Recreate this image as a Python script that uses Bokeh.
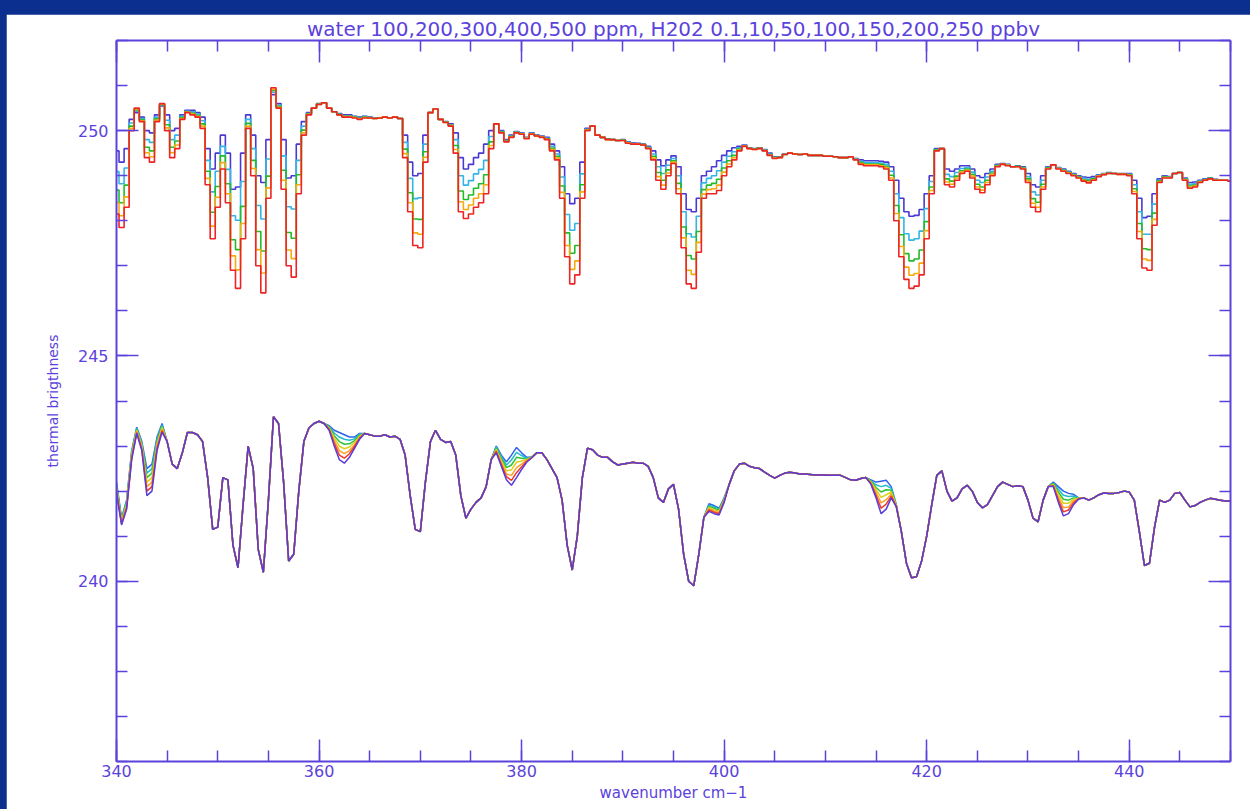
from bokeh.plotting import figure
from bokeh.models import LinearAxis, SingleIntervalTicker
from bokeh.layouts import column
from bokeh.embed import file_html
from bokeh.resources import INLINE

# wavenumber grid (cm-1), 0.5 cm-1 spacing
wavenumber = [round(340.0 + 0.5 * i, 1) for i in range(221)]

# ---------------- water spectra (ppm) ----------------
water_labels = ["100", "200", "300", "400", "500"]
water_100 = [
    249.55, 249.30, 249.60, 250.25, 250.40, 250.30, 250.00, 249.95, 250.35, 250.55,
    250.35, 250.00, 250.05, 250.35, 250.45, 250.45, 250.40, 250.30, 249.60, 249.15,
    249.50, 249.90, 249.50, 248.70, 248.75, 249.50, 250.35, 249.90, 249.00, 248.85,
    249.80, 250.80, 250.60, 249.80, 248.95, 249.00, 249.70, 250.20, 250.40, 250.50,
    250.60, 250.62, 250.50, 250.42, 250.38, 250.35, 250.35, 250.32, 250.30, 250.32,
    250.30, 250.28, 250.28, 250.30, 250.28, 250.30, 250.27, 249.90, 249.30, 249.00,
    249.05, 249.90, 250.40, 250.48, 250.25, 250.20, 250.15, 249.95, 249.40, 249.15,
    249.25, 249.40, 249.50, 249.70, 250.00, 250.15, 250.00, 249.80, 249.90, 249.98,
    249.95, 249.85, 249.95, 249.90, 249.88, 249.85, 249.70, 249.55, 249.20, 248.60,
    248.38, 248.50, 249.30, 250.05, 250.10, 249.90, 249.85, 249.82, 249.80, 249.78,
    249.80, 249.75, 249.73, 249.72, 249.70, 249.65, 249.55, 249.35, 249.22, 249.35,
    249.44, 249.20, 248.60, 248.25, 248.20, 248.50, 249.00, 249.10, 249.20, 249.33,
    249.45, 249.55, 249.62, 249.65, 249.68, 249.62, 249.60, 249.62, 249.58, 249.50,
    249.42, 249.42, 249.48, 249.50, 249.48, 249.47, 249.48, 249.45, 249.45, 249.45,
    249.43, 249.43, 249.42, 249.40, 249.40, 249.42, 249.38, 249.35, 249.33, 249.33,
    249.33, 249.32, 249.30, 249.20, 248.90, 248.50, 248.20, 248.10, 248.12, 248.25,
    248.60, 249.00, 249.60, 249.60, 249.15, 249.10, 249.15, 249.22, 249.22, 249.15,
    249.00, 248.96, 249.05, 249.15, 249.25, 249.27, 249.25, 249.20, 249.22, 249.20,
    249.05, 248.80, 248.75, 249.00, 249.20, 249.24, 249.18, 249.15, 249.10, 249.05,
    249.00, 248.97, 248.96, 248.98, 249.02, 249.05, 249.07, 249.05, 249.05, 249.05,
    249.05, 248.90, 248.50, 248.07, 248.10, 248.60, 248.93, 249.00, 248.98, 249.05,
    249.07, 248.95, 248.85, 248.86, 248.90, 248.93, 248.95, 248.92, 248.90, 248.90,
    248.88,
]
water_200 = [
    249.09, 248.82, 249.17, 250.17, 250.43, 250.27, 249.80, 249.74, 250.30, 250.57,
    250.23, 249.80, 249.90, 250.32, 250.43, 250.42, 250.37, 250.22, 249.34, 248.64,
    249.10, 249.65, 249.14, 248.11, 248.01, 248.87, 250.25, 249.60, 248.34, 248.04,
    249.37, 250.85, 250.57, 249.44, 248.31, 248.26, 249.34, 250.10, 250.38, 250.50,
    250.59, 250.62, 250.50, 250.42, 250.37, 250.33, 250.33, 250.31, 250.28, 250.31,
    250.29, 250.28, 250.28, 250.30, 250.28, 250.30, 250.27, 249.74, 248.94, 248.49,
    248.51, 249.70, 250.40, 250.48, 250.25, 250.19, 250.13, 249.80, 249.00, 248.79,
    248.89, 249.04, 249.14, 249.34, 249.87, 250.15, 249.98, 249.78, 249.88, 249.97,
    249.94, 249.84, 249.94, 249.89, 249.87, 249.83, 249.65, 249.48, 248.97, 248.14,
    247.79, 247.94, 249.04, 250.03, 250.10, 249.90, 249.85, 249.81, 249.80, 249.78,
    249.79, 249.74, 249.72, 249.71, 249.69, 249.63, 249.48, 249.20, 249.05, 249.23,
    249.38, 249.00, 248.20, 247.71, 247.64, 248.10, 248.84, 248.94, 249.00, 249.11,
    249.30, 249.43, 249.53, 249.62, 249.67, 249.61, 249.59, 249.61, 249.57, 249.48,
    249.41, 249.41, 249.48, 249.50, 249.48, 249.47, 249.48, 249.45, 249.45, 249.45,
    249.43, 249.43, 249.42, 249.40, 249.40, 249.42, 249.37, 249.32, 249.29, 249.29,
    249.29, 249.28, 249.25, 249.10, 248.60, 248.07, 247.71, 247.57, 247.60, 247.77,
    248.27, 248.87, 249.58, 249.60, 249.03, 248.98, 249.07, 249.16, 249.18, 249.08,
    248.90, 248.85, 248.97, 249.10, 249.23, 249.26, 249.24, 249.20, 249.21, 249.18,
    248.98, 248.64, 248.57, 248.90, 249.18, 249.24, 249.17, 249.13, 249.08, 249.03,
    248.98, 248.94, 248.92, 248.95, 249.01, 249.04, 249.06, 249.05, 249.04, 249.04,
    249.03, 248.80, 248.20, 247.70, 247.70, 248.37, 248.90, 248.98, 248.97, 249.05,
    249.07, 248.93, 248.81, 248.82, 248.88, 248.92, 248.94, 248.91, 248.90, 248.90,
    248.88,
]
water_300 = [
    248.68, 248.40, 248.79, 250.10, 250.46, 250.24, 249.63, 249.55, 250.26, 250.58,
    250.13, 249.63, 249.77, 250.29, 250.42, 250.39, 250.34, 250.15, 249.10, 248.19,
    248.76, 249.44, 248.82, 247.58, 247.36, 248.32, 250.16, 249.34, 247.76, 247.33,
    248.99, 250.89, 250.54, 249.12, 247.74, 247.61, 249.02, 250.01, 250.37, 250.50,
    250.59, 250.62, 250.50, 250.42, 250.36, 250.32, 250.32, 250.30, 250.27, 250.30,
    250.29, 250.27, 250.28, 250.30, 250.28, 250.30, 250.27, 249.59, 248.62, 248.04,
    248.03, 249.53, 250.40, 250.48, 250.25, 250.19, 250.12, 249.67, 248.66, 248.47,
    248.57, 248.72, 248.82, 249.02, 249.75, 250.15, 249.97, 249.77, 249.87, 249.96,
    249.93, 249.83, 249.93, 249.89, 249.86, 249.82, 249.61, 249.43, 248.77, 247.73,
    247.28, 247.45, 248.80, 250.02, 250.10, 249.90, 249.85, 249.81, 249.80, 249.78,
    249.79, 249.73, 249.71, 249.71, 249.69, 249.62, 249.43, 249.07, 248.90, 249.13,
    249.33, 248.83, 247.86, 247.23, 247.15, 247.76, 248.69, 248.79, 248.83, 248.92,
    249.17, 249.33, 249.45, 249.59, 249.66, 249.61, 249.59, 249.61, 249.56, 249.47,
    249.40, 249.41, 249.47, 249.50, 249.48, 249.47, 249.48, 249.45, 249.45, 249.45,
    249.43, 249.43, 249.42, 249.40, 249.40, 249.42, 249.36, 249.29, 249.26, 249.26,
    249.26, 249.25, 249.21, 249.01, 248.34, 247.69, 247.27, 247.11, 247.15, 247.35,
    247.98, 248.75, 249.57, 249.60, 248.93, 248.88, 248.99, 249.11, 249.15, 249.03,
    248.81, 248.75, 248.90, 249.06, 249.22, 249.26, 249.23, 249.20, 249.21, 249.17,
    248.93, 248.49, 248.41, 248.81, 249.17, 249.24, 249.16, 249.12, 249.07, 249.02,
    248.97, 248.91, 248.89, 248.93, 249.00, 249.03, 249.06, 249.05, 249.04, 249.04,
    249.02, 248.71, 247.94, 247.38, 247.36, 248.17, 248.88, 248.97, 248.96, 249.05,
    249.07, 248.92, 248.77, 248.79, 248.87, 248.91, 248.94, 248.91, 248.90, 248.90,
    248.88,
]
water_400 = [
    248.40, 248.11, 248.53, 250.05, 250.48, 250.22, 249.51, 249.42, 250.23, 250.59,
    250.06, 249.51, 249.68, 250.27, 250.41, 250.37, 250.32, 250.10, 248.94, 247.88,
    248.52, 249.29, 248.60, 247.22, 246.91, 247.94, 250.10, 249.16, 247.36, 246.84,
    248.73, 250.92, 250.52, 248.90, 247.35, 247.16, 248.80, 249.95, 250.36, 250.50,
    250.58, 250.62, 250.50, 250.42, 250.35, 250.31, 250.31, 250.29, 250.26, 250.29,
    250.28, 250.27, 250.28, 250.30, 250.28, 250.30, 250.27, 249.49, 248.40, 247.73,
    247.70, 249.41, 250.40, 250.48, 250.25, 250.18, 250.11, 249.58, 248.42, 248.25,
    248.35, 248.50, 248.60, 248.80, 249.67, 250.15, 249.96, 249.76, 249.86, 249.96,
    249.93, 249.83, 249.93, 249.88, 249.86, 249.81, 249.58, 249.39, 248.63, 247.45,
    246.92, 247.11, 248.64, 250.01, 250.10, 249.90, 249.85, 249.80, 249.80, 249.78,
    249.78, 249.73, 249.71, 249.70, 249.68, 249.61, 249.39, 248.98, 248.79, 249.06,
    249.30, 248.71, 247.62, 246.90, 246.81, 247.52, 248.59, 248.69, 248.71, 248.79,
    249.08, 249.26, 249.40, 249.57, 249.66, 249.60, 249.58, 249.60, 249.56, 249.46,
    249.39, 249.40, 249.47, 249.50, 249.48, 249.47, 249.48, 249.45, 249.45, 249.45,
    249.43, 249.43, 249.42, 249.40, 249.40, 249.42, 249.36, 249.27, 249.24, 249.24,
    249.24, 249.22, 249.18, 248.95, 248.16, 247.43, 246.97, 246.79, 246.83, 247.06,
    247.78, 248.67, 249.56, 249.60, 248.86, 248.81, 248.95, 249.08, 249.12, 248.99,
    248.75, 248.68, 248.85, 249.03, 249.21, 249.25, 249.23, 249.20, 249.20, 249.16,
    248.89, 248.39, 248.30, 248.75, 249.16, 249.24, 249.16, 249.11, 249.06, 249.01,
    248.96, 248.90, 248.86, 248.91, 248.99, 249.03, 249.05, 249.05, 249.03, 249.03,
    249.01, 248.65, 247.76, 247.15, 247.12, 248.03, 248.86, 248.96, 248.96, 249.05,
    249.07, 248.91, 248.74, 248.77, 248.86, 248.90, 248.93, 248.90, 248.90, 248.90,
    248.88,
]
water_500 = [
    248.15, 247.85, 248.30, 250.00, 250.50, 250.20, 249.40, 249.30, 250.20, 250.60,
    250.00, 249.40, 249.60, 250.25, 250.40, 250.35, 250.30, 250.05, 248.80, 247.60,
    248.30, 249.15, 248.40, 246.90, 246.50, 247.60, 250.05, 249.00, 247.00, 246.40,
    248.50, 250.95, 250.50, 248.70, 247.00, 246.75, 248.60, 249.90, 250.35, 250.50,
    250.58, 250.62, 250.50, 250.42, 250.35, 250.30, 250.30, 250.28, 250.25, 250.28,
    250.28, 250.27, 250.28, 250.30, 250.28, 250.30, 250.27, 249.40, 248.20, 247.45,
    247.40, 249.30, 250.40, 250.48, 250.25, 250.18, 250.10, 249.50, 248.20, 248.05,
    248.15, 248.30, 248.40, 248.60, 249.60, 250.15, 249.95, 249.75, 249.85, 249.95,
    249.92, 249.82, 249.92, 249.88, 249.85, 249.80, 249.55, 249.35, 248.50, 247.20,
    246.60, 246.80, 248.50, 250.00, 250.10, 249.90, 249.85, 249.80, 249.80, 249.78,
    249.78, 249.72, 249.70, 249.70, 249.68, 249.60, 249.35, 248.90, 248.70, 249.00,
    249.27, 248.60, 247.40, 246.60, 246.50, 247.30, 248.50, 248.60, 248.60, 248.67,
    249.00, 249.20, 249.35, 249.55, 249.65, 249.60, 249.58, 249.60, 249.55, 249.45,
    249.38, 249.40, 249.47, 249.50, 249.48, 249.47, 249.48, 249.45, 249.45, 249.45,
    249.43, 249.43, 249.42, 249.40, 249.40, 249.42, 249.35, 249.25, 249.22, 249.22,
    249.22, 249.20, 249.15, 248.90, 248.00, 247.20, 246.70, 246.50, 246.55, 246.80,
    247.60, 248.60, 249.55, 249.60, 248.80, 248.75, 248.90, 249.05, 249.10, 248.95,
    248.70, 248.62, 248.80, 249.00, 249.20, 249.25, 249.22, 249.20, 249.20, 249.15,
    248.85, 248.30, 248.20, 248.70, 249.15, 249.24, 249.15, 249.10, 249.05, 249.00,
    248.95, 248.88, 248.84, 248.90, 248.98, 249.02, 249.05, 249.05, 249.03, 249.03,
    249.00, 248.60, 247.60, 246.95, 246.90, 247.90, 248.85, 248.95, 248.95, 249.05,
    249.07, 248.90, 248.72, 248.75, 248.85, 248.90, 248.93, 248.90, 248.90, 248.90,
    248.88,
]
water_colors = ["#4a38d2", "#33b4e6", "#22bb2a", "#f5aa10", "#ee2424"]

# ---------------- H2O2 spectra (ppbv) ----------------
h2o2_labels = ["0.1", "10", "50", "100", "150", "200", "250"]
# part of the spectrum where all H2O2 curves coincide
h2o2_shared = [
    242.10, 241.30, 241.70, 242.80, 243.35, 243.00, 242.40, 242.20, 243.00, 243.40,
    243.10, 242.60, 242.50, 242.85, 243.30, 243.30, 243.25, 243.10, 242.30, 241.15,
    241.20, 242.30, 242.25, 240.80, 240.30, 241.70, 243.00, 242.50, 240.70, 240.20,
    241.80, 243.65, 243.50, 242.20, 240.45, 240.60, 242.00, 243.10, 243.40, 243.50,
    243.55, 243.50, 243.40, 243.20, 242.90, 242.80, 242.85, 243.00, 243.15, 243.28,
    243.25, 243.22, 243.22, 243.25, 243.20, 243.22, 243.15, 242.80, 241.90, 241.15,
    241.10, 242.20, 243.10, 243.35, 243.15, 243.08, 243.10, 242.80, 241.90, 241.40,
    241.60, 241.75, 241.85, 242.10, 242.70, 242.85, 242.55, 242.25, 242.13, 242.30,
    242.48, 242.64, 242.74, 242.85, 242.85, 242.70, 242.50, 242.30, 241.80, 240.80,
    240.25, 241.00, 242.30, 242.95, 242.92, 242.80, 242.75, 242.75, 242.65, 242.58,
    242.60, 242.62, 242.64, 242.62, 242.62, 242.55, 242.30, 241.85, 241.75, 242.05,
    242.15, 241.60, 240.60, 240.00, 239.90, 240.60, 241.42, 241.55, 241.50, 241.47,
    241.75, 242.15, 242.45, 242.60, 242.62, 242.55, 242.52, 242.50, 242.42, 242.35,
    242.29, 242.35, 242.40, 242.42, 242.40, 242.38, 242.38, 242.37, 242.36, 242.36,
    242.36, 242.35, 242.35, 242.35, 242.30, 242.25, 242.24, 242.28, 242.30, 242.25,
    242.00, 241.50, 241.60, 241.85, 241.65, 241.10, 240.40, 240.08, 240.10, 240.45,
    241.00, 241.70, 242.35, 242.45, 242.00, 241.78, 241.85, 242.05, 242.13, 242.00,
    241.75, 241.63, 241.70, 241.90, 242.10, 242.20, 242.15, 242.10, 242.12, 242.10,
    241.80, 241.40, 241.32, 241.80, 242.10, 242.15, 241.75, 241.45, 241.50, 241.70,
    241.82, 241.85, 241.80, 241.85, 241.92, 241.96, 241.95, 241.95, 241.97, 242.00,
    241.98, 241.80, 241.10, 240.35, 240.40, 241.20, 241.80, 241.75, 241.80, 241.95,
    241.97, 241.80, 241.65, 241.68, 241.75, 241.80, 241.84, 241.82, 241.80, 241.78,
    241.78,
]
# wavenumbers where the H2O2 curves separate, and each curve's values there
h2o2_split_wn = [
    340.0, 340.5, 341.0, 341.5, 342.0, 342.5, 343.0, 343.5, 344.0, 344.5,
    361.0, 361.5, 362.0, 362.5, 363.0, 363.5, 364.0,
    377.5, 378.0, 378.5, 379.0, 379.5, 380.0, 380.5, 381.0,
    398.5, 399.0, 399.5, 400.0,
    414.5, 415.0, 415.5, 416.0, 416.5, 417.0,
    432.5, 433.0, 433.5, 434.0, 434.5, 435.0,
]
h2o2_split_0_1 = [
    242.20, 241.40, 241.80, 242.90, 243.42, 243.10, 242.50, 242.60, 243.20, 243.50,
    243.45, 243.35, 243.30, 243.25, 243.20, 243.20, 243.28,
    243.00, 242.80, 242.65, 242.80, 242.97, 242.85, 242.75, 242.76,
    241.72, 241.68, 241.62, 241.85,
    242.25, 242.20, 242.22, 242.24, 242.10, 241.70,
    242.20, 242.10, 242.00, 241.95, 241.93, 241.85,
]
h2o2_split_10 = [
    242.16, 241.38, 241.77, 242.87, 243.40, 243.07, 242.40, 242.50, 243.15, 243.47,
    243.43, 243.29, 243.20, 243.15, 243.13, 243.16, 243.26,
    242.98, 242.76, 242.58, 242.69, 242.86, 242.79, 242.73, 242.76,
    241.69, 241.65, 241.60, 241.83,
    242.23, 242.14, 242.10, 242.13, 242.06, 241.69,
    242.18, 242.04, 241.91, 241.88, 241.89, 241.85,
]
h2o2_split_50 = [
    242.12, 241.35, 241.73, 242.83, 243.37, 243.03, 242.30, 242.40, 243.10, 243.44,
    243.42, 243.23, 243.10, 243.04, 243.05, 243.12, 243.24,
    242.95, 242.72, 242.52, 242.58, 242.75, 242.73, 242.71, 242.75,
    241.66, 241.62, 241.57, 241.82,
    242.22, 242.08, 241.98, 242.03, 242.02, 241.68,
    242.17, 241.98, 241.82, 241.80, 241.85, 241.84,
]
h2o2_split_100 = [
    242.08, 241.33, 241.70, 242.80, 243.35, 243.00, 242.20, 242.30, 243.05, 243.41,
    243.40, 243.18, 243.00, 242.94, 242.98, 243.08, 243.22,
    242.93, 242.68, 242.45, 242.47, 242.64, 242.67, 242.70, 242.75,
    241.64, 241.59, 241.55, 241.80,
    242.20, 242.03, 241.86, 241.92, 241.98, 241.68,
    242.15, 241.93, 241.73, 241.73, 241.82, 241.84,
]
h2o2_split_150 = [
    242.03, 241.30, 241.67, 242.77, 243.33, 242.97, 242.10, 242.20, 243.00, 243.37,
    243.38, 243.12, 242.90, 242.83, 242.90, 243.03, 243.19,
    242.90, 242.63, 242.38, 242.35, 242.52, 242.60, 242.68, 242.75,
    241.61, 241.56, 241.52, 241.78,
    242.18, 241.97, 241.74, 241.81, 241.93, 241.67,
    242.13, 241.87, 241.63, 241.65, 241.78, 241.83,
]
h2o2_split_200 = [
    241.99, 241.28, 241.63, 242.73, 243.30, 242.93, 242.00, 242.10, 242.95, 243.34,
    243.37, 243.06, 242.80, 242.73, 242.83, 242.99, 243.17,
    242.88, 242.59, 242.32, 242.24, 242.41, 242.54, 242.66, 242.74,
    241.58, 241.53, 241.50, 241.77,
    242.17, 241.91, 241.62, 241.71, 241.89, 241.66,
    242.12, 241.81, 241.54, 241.58, 241.74, 241.83,
]
h2o2_split_250 = [
    241.95, 241.25, 241.60, 242.70, 243.28, 242.90, 241.90, 242.00, 242.90, 243.31,
    243.35, 243.00, 242.70, 242.62, 242.75, 242.95, 243.15,
    242.85, 242.55, 242.25, 242.13, 242.30, 242.48, 242.64, 242.74,
    241.55, 241.50, 241.47, 241.75,
    242.15, 241.85, 241.50, 241.60, 241.85, 241.65,
    242.10, 241.75, 241.45, 241.50, 241.70, 241.82,
]
h2o2_colors = ["#2f62ee", "#22bccc", "#2ec23a", "#d9d21e", "#ffa028", "#f0382a", "#5a3cd8"]

title_text = "water 100,200,300,400,500 ppm, H202 0.1,10,50,100,150,200,250 ppbv"
x_label = "wavenumber cm\u22121"
y_label = "thermal brigthness"

AX = "#5c42dc"
NAVY = "#0a2f8e"
FONT = "DejaVu Sans"

p = figure(width=1244, height=795, x_range=(340, 450), y_range=(236, 252),
           output_backend="svg", toolbar_location=None,
           min_border_left=110, min_border_right=20, min_border_top=26, min_border_bottom=48,
           background_fill_color="white", border_fill_color="white")
p.outline_line_color = None
p.xgrid.visible = False
p.ygrid.visible = False

p.title.text = title_text
p.title.align = "center"
p.title.text_font = FONT
p.title.text_font_size = "20px"
p.title.text_font_style = "normal"
p.title.text_color = AX
p.title.standoff = 0


def style_axis(ax, show_labels):
    ax.axis_line_color = AX
    ax.axis_line_width = 2
    ax.major_tick_line_color = AX
    ax.minor_tick_line_color = AX
    ax.major_tick_line_width = 1.5
    ax.minor_tick_line_width = 1.5
    ax.major_tick_in = 22
    ax.major_tick_out = 0
    ax.minor_tick_in = 11
    ax.minor_tick_out = 0
    ax.major_label_text_color = AX
    ax.major_label_text_font = FONT
    ax.axis_label_text_color = AX
    ax.axis_label_text_font = FONT
    ax.axis_label_text_font_style = "normal"
    if show_labels:
        ax.major_label_text_font_size = "16px"
    else:
        # frame side without numbers: labels are not drawn at all
        ax.major_label_text_color = None
        ax.major_label_text_font_size = "1px"
        ax.major_label_standoff = 0


xt = SingleIntervalTicker(interval=20, num_minor_ticks=4)
yt = SingleIntervalTicker(interval=5, num_minor_ticks=5)

p.xaxis.ticker = xt
p.yaxis.ticker = yt
style_axis(p.xaxis[0], True)
style_axis(p.yaxis[0], True)
p.xaxis.axis_label = x_label
p.xaxis.axis_label_text_font_size = "15px"
p.xaxis.axis_label_standoff = 4
p.xaxis.major_label_standoff = 3
p.yaxis.axis_label = y_label
p.yaxis.axis_label_text_font_size = "14px"
p.yaxis.axis_label_standoff = 14
p.yaxis.major_label_standoff = 8

right = LinearAxis(ticker=SingleIntervalTicker(interval=5, num_minor_ticks=5))
style_axis(right, False)
p.add_layout(right, "right")
top = LinearAxis(ticker=SingleIntervalTicker(interval=20, num_minor_ticks=4))
style_axis(top, False)
p.add_layout(top, "above")

# water: stepped (histogram) curves, red drawn last
for ys, col in zip([water_100, water_200, water_300, water_400, water_500], water_colors):
    p.step(wavenumber, ys, mode="center", line_color=col, line_width=1.6)

# H2O2: smooth curves
index_of = {w: i for i, w in enumerate(wavenumber)}
splits = [h2o2_split_0_1, h2o2_split_10, h2o2_split_50, h2o2_split_100,
          h2o2_split_150, h2o2_split_200, h2o2_split_250]
for vals, col in zip(splits, h2o2_colors):
    ys = list(h2o2_shared)
    for w, v in zip(h2o2_split_wn, vals):
        ys[index_of[w]] = v
    p.line(wavenumber, ys, line_color=col, line_width=1.5)

layout = column(p, styles={"background-color": NAVY, "padding": "14px 0px 0px 6px"})

open("out.html", "w").write(file_html(layout, INLINE))
